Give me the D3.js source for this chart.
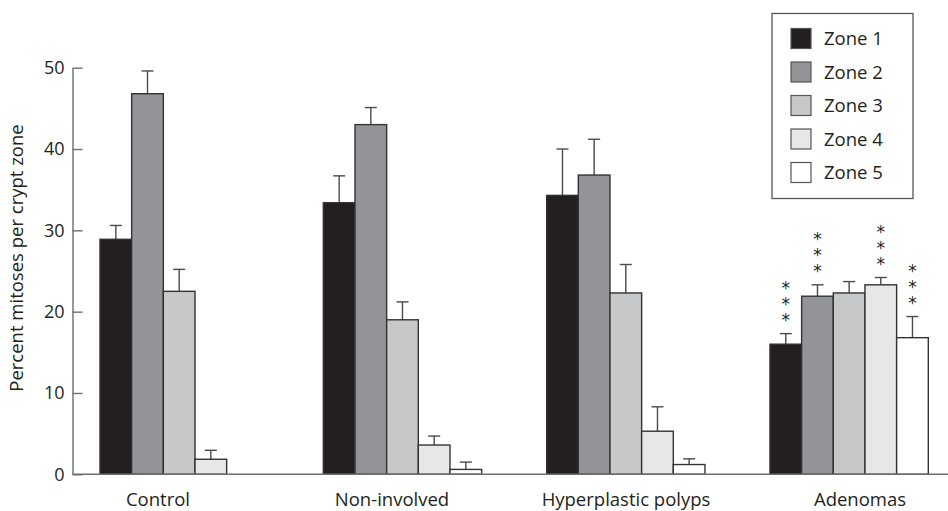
<!DOCTYPE html>
<html>
<head>
<meta charset="utf-8">
<script src="https://cdn.jsdelivr.net/npm/d3@7/dist/d3.min.js"></script>
<style>
  html, body { margin: 0; padding: 0; background: #fff; }
  svg text { font-family: "Open Sans", Lato, sans-serif; fill: #231f20; }
  svg text.star { writing-mode: vertical-rl; text-orientation: upright; }
</style>
</head>
<body>
<svg id="chart" width="948" height="511"></svg>
<script>
// Tissue groups and crypt zones
const groups = ["Control", "Non-involved", "Hyperplastic polyps", "Adenomas"];
const zones = ["Zone 1", "Zone 2", "Zone 3", "Zone 4", "Zone 5"];
const zoneColors = ["#231f20", "#929497", "#c7c8ca", "#e6e7e8", "#ffffff"];

// Percent mitoses per crypt zone (mean) for each group, zones 1-5
const controlMeans      = [28.9, 46.8, 22.5, 1.85, null];
const nonInvolvedMeans  = [33.4, 43.0, 19.0, 3.6, 0.6];
const hyperplasticMeans = [34.3, 36.8, 22.3, 5.3, 1.2];
const adenomaMeans      = [16.0, 21.9, 22.3, 23.3, 16.8];

// Upper error (SEM) for each bar
const controlErr      = [1.7, 2.8, 2.7, 1.1, null];
const nonInvolvedErr  = [3.3, 2.1, 2.2, 1.1, 0.9];
const hyperplasticErr = [5.7, 4.4, 3.5, 3.0, 0.7];
const adenomaErr      = [1.3, 1.4, 1.4, 0.9, 2.6];

// Significance markers (adenomas vs control)
const adenomaStars = ["***", "***", "", "***", "***"];

const yTicks = [0, 10, 20, 30, 40, 50];
const yTitle = "Percent mitoses per crypt zone";

const meansByGroup = [controlMeans, nonInvolvedMeans, hyperplasticMeans, adenomaMeans];
const errByGroup = [controlErr, nonInvolvedErr, hyperplasticErr, adenomaErr];
const starsByGroup = [[], [], [], adenomaStars];

const rows = [];
groups.forEach((g, gi) => {
  zones.forEach((z, zi) => {
    const v = meansByGroup[gi][zi];
    if (v == null) return;
    rows.push({ group: g, zone: z, zi, value: v, err: errByGroup[gi][zi], stars: starsByGroup[gi][zi] || "" });
  });
});

const svg = d3.select("#chart");

const axisX = 72.5;
const y = d3.scaleLinear().domain([0, 50]).range([474.3, 67.7]);

const x0 = d3.scaleBand().domain(groups).range([100, 928.3]).paddingInner(0.291).paddingOuter(0);
const x1 = d3.scaleBand().domain(zones).range([0, x0.bandwidth()]);
const labelX = d3.scalePoint().domain(groups).range([158, 860]);
const color = d3.scaleOrdinal().domain(zones).range(zoneColors);
const cx = d => x0(d.group) + x1(d.zone) + x1.bandwidth() / 2;

// Error bars (drawn first so bar tops overlap the stem)
const eb = svg.append("g").attr("class", "errors");
const errColor = "#4a4a4a";
eb.selectAll("line.stem").data(rows).join("line")
  .attr("class", "stem")
  .attr("x1", cx).attr("x2", cx)
  .attr("y1", d => y(d.value))
  .attr("y2", d => y(d.value + d.err))
  .attr("stroke", errColor).attr("stroke-width", 1.4);
eb.selectAll("line.cap").data(rows).join("line")
  .attr("class", "cap")
  .attr("x1", d => cx(d) - 6)
  .attr("x2", d => cx(d) + 6)
  .attr("y1", d => y(d.value + d.err))
  .attr("y2", d => y(d.value + d.err))
  .attr("stroke", errColor).attr("stroke-width", 1.4);

// Bars
svg.append("g").attr("class", "bars")
  .selectAll("rect").data(rows).join("rect")
  .attr("x", d => x0(d.group) + x1(d.zone))
  .attr("y", d => y(d.value))
  .attr("width", x1.bandwidth())
  .attr("height", d => y(0) - y(d.value))
  .attr("fill", d => color(d.zone))
  .attr("stroke", "#333")
  .attr("stroke-width", 1.4);

// Significance asterisks, set as a vertical column ending just above each error cap
svg.append("g").attr("class", "stars")
  .selectAll("text").data(rows.filter(d => d.stars)).join("text")
  .attr("class", "star")
  .attr("x", cx)
  .attr("y", d => y(d.value + d.err) - 8)
  .attr("text-anchor", "end")
  .style("font-size", "17px")
  .style("letter-spacing", "-4px")
  .style("font-family", "'DejaVu Sans', sans-serif")
  .text(d => d.stars);

// Y axis with inward ticks
const yAxis = d3.axisLeft(y).tickValues(yTicks).tickSizeInner(-10).tickSizeOuter(0).tickPadding(8);
const yg = svg.append("g").attr("transform", `translate(${axisX},0)`).call(yAxis);
yg.select(".domain").attr("stroke", "#6d6e71").attr("stroke-width", 1.4);
yg.selectAll(".tick line").attr("stroke", "#6d6e71").attr("stroke-width", 1.4);
yg.selectAll(".tick text").style("font-size", "18px").style("font-family", "'Open Sans', sans-serif").attr("fill", "#231f20");

// Baseline across the full width
svg.append("line")
  .attr("x1", axisX).attr("x2", 948)
  .attr("y1", y(0)).attr("y2", y(0))
  .attr("stroke", "#6d6e71").attr("stroke-width", 1.6);

// Group labels
svg.append("g").selectAll("text").data(groups).join("text")
  .attr("x", d => labelX(d))
  .attr("y", 506)
  .attr("text-anchor", "middle")
  .style("font-size", "18.5px")
  .text(d => d);

// Y title
svg.append("text")
  .attr("transform", `translate(23,${258}) rotate(-90)`)
  .attr("text-anchor", "middle")
  .style("font-size", "18.5px")
  .text(yTitle);

// Legend
const lg = svg.append("g").attr("class", "legend");
lg.append("rect")
  .attr("x", 772).attr("y", 13.5).attr("width", 141).attr("height", 185)
  .attr("fill", "#fff").attr("stroke", "#555").attr("stroke-width", 1.3);
const legendY = d3.scalePoint().domain(zones).range([38.5, 172.5]);
const li = lg.selectAll("g.item").data(zones).join("g").attr("class", "item")
  .attr("transform", d => `translate(0,${legendY(d)})`);
li.append("rect")
  .attr("x", 791).attr("y", -10).attr("width", 20).attr("height", 20)
  .attr("fill", d => color(d)).attr("stroke", "#555").attr("stroke-width", 1.2);
li.append("text")
  .attr("x", 824).attr("y", 0).attr("dy", "0.36em")
  .style("font-size", "18.5px")
  .text(d => d);
</script>
</body>
</html>
